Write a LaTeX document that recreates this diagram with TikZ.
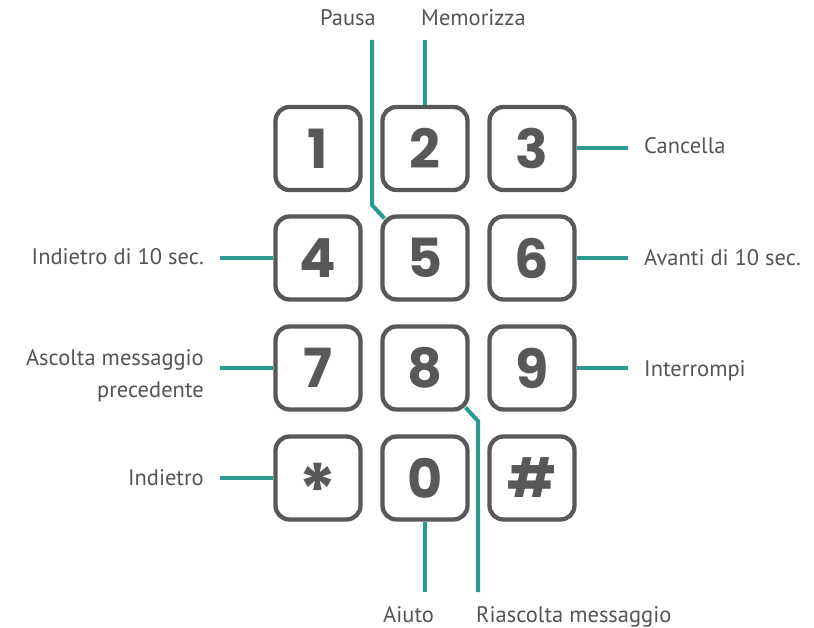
\documentclass[tikz,border=0pt]{standalone}
\usepackage{fontspec}
\setmainfont{PT Sans}
\newfontfamily\keyfont{Poppins}
\usetikzlibrary{calc}
\definecolor{keygray}{HTML}{58585A}
\definecolor{txtgray}{HTML}{545456}
\definecolor{teal}{HTML}{2A9B8F}
\tikzset{
  keybox/.style={draw=keygray, line width=4.3pt, rounded corners=14pt, fill=white,
    minimum width=85pt, minimum height=83pt, inner sep=0pt, text=keygray,
    font=\keyfont\bfseries\fontsize{54}{54}\selectfont},
  conn/.style={draw=teal, line width=4pt},
  lbl/.style={text=txtgray, font=\fontsize{22.5}{32}\selectfont, inner sep=0pt}
}
\begin{document}
\begin{tikzpicture}[x=1pt,y=-1pt]
\useasboundingbox (0,0) rectangle (814,628);
% keys
\node[keybox] (k1) at (318,148.5) {1};
\node[keybox] (k2) at (425,148.5) {2};
\node[keybox] (k3) at (532,148.5) {3};
\node[keybox] (k4) at (318,258) {4};
\node[keybox] (k5) at (425,258) {5};
\node[keybox] (k6) at (532,258) {6};
\node[keybox] (k7) at (318,368) {7};
\node[keybox] (k8) at (425,368) {8};
\node[keybox] (k9) at (532,368) {9};
\node[keybox] (kstar) at (318,478) {\fontsize{72}{72}\selectfont\raisebox{-0.53em}[0pt][0pt]{*}};
\node[keybox] (k0) at (425,478) {0};
\node[keybox] (khash) at (532,478) {\#};
% labels
\node[lbl, anchor=base east] (lpausa) at (376,26) {Pausa};
\node[lbl, anchor=base west] (lmem) at (421,26) {Memorizza};
\node[lbl, anchor=base west] (lcanc) at (644,154) {Cancella};
\node[lbl, anchor=base west] (lavanti) at (644,266) {Avanti di 10 sec.};
\node[lbl, anchor=base west] (linterr) at (644,376.5) {Interrompi};
\node[lbl, anchor=base east] (lind10) at (204,265) {Indietro di 10 sec.};
\node[lbl, anchor=base east, align=right] (lascolta) at (204,397) {Ascolta messaggio\\precedente};
\node[lbl, anchor=base east] (lind) at (204,485) {Indietro};
\node[lbl, anchor=base west] (laiuto) at (383,622) {Aiuto};
\node[lbl, anchor=base west] (lrias) at (476,622) {Riascolta messaggio};
% connector end points
\coordinate (cpausa) at (372,40);
\coordinate (cmem) at (425,40);
\coordinate (ccanc) at (628,0);
\coordinate (cleft) at (220,0);
\coordinate (caiuto) at (425,592);
\coordinate (crias) at (478,592);
% connectors
\draw[conn] (cpausa) -- (372,205) -- ($(k5.north west)+(4.1,4.1)$);
\draw[conn] (cmem) -- (k2.north);
\draw[conn] (k3.east) -- (k3.east -| ccanc);
\draw[conn] (k6.east) -- (k6.east -| ccanc);
\draw[conn] (k9.east) -- (k9.east -| ccanc);
\draw[conn] (k4.west -| cleft) -- (k4.west);
\draw[conn] (k7.west -| cleft) -- (k7.west);
\draw[conn] (kstar.west -| cleft) -- (kstar.west);
\draw[conn] (k0.south) -- (caiuto);
\draw[conn] ($(k8.south east)+(-4.1,-4.1)$) -- (478,421) -- (crias);
\end{tikzpicture}
\end{document}
